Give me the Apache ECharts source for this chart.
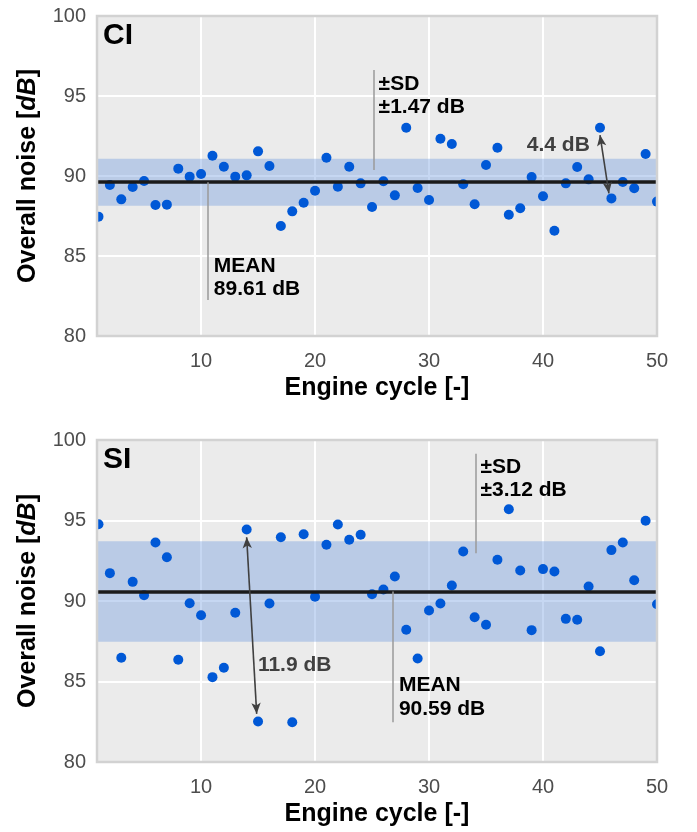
<!DOCTYPE html>
<html><head><meta charset="utf-8">
<script src="https://cdn.jsdelivr.net/npm/echarts@6/dist/echarts.min.js"></script>
<style>html,body{margin:0;padding:0;background:#fff}#c{width:697px;height:832px}</style>
</head><body><div id="c"></div>
<script>
// ---- data ----
const cycles = [1,2,3,4,5,6,7,8,9,10,11,12,13,14,15,16,17,18,19,20,21,22,23,24,25,26,27,28,29,30,31,32,33,34,35,36,37,38,39,40,41,42,43,44,45,46,47,48,49,50];
const ciNoise = [87.46,89.44,88.54,89.31,89.69,88.19,88.21,90.46,89.96,90.12,91.27,90.58,89.96,90.04,91.54,90.63,86.88,87.79,88.33,89.08,91.14,89.33,90.58,89.54,88.06,89.67,88.79,93.02,89.25,88.50,92.33,92.00,89.48,88.23,90.69,91.77,87.58,87.98,89.94,88.73,86.58,89.54,90.56,89.79,93.02,88.60,89.63,89.23,91.38,88.40];
const siNoise = [94.77,91.73,86.47,91.19,90.36,93.63,92.72,86.35,89.86,89.12,85.27,85.85,89.27,94.44,82.52,89.84,93.96,82.47,94.15,90.26,93.49,94.75,93.80,94.11,90.42,90.71,91.52,88.21,86.43,89.41,89.84,90.96,93.07,88.99,88.52,92.56,95.70,91.89,88.19,91.98,91.83,88.89,88.83,90.90,86.88,93.16,93.63,91.29,94.98,89.80];
const ciMean = 89.61, ciSD = 1.47;
const siMean = 90.59, siSD = 3.12;
const ciRange = 4.4, siRange = 11.9;
const xTicks = [10,20,30,40,50];
const yTicks = [80,85,90,95,100];
const panelNames = ['CI','SI'];

// ---- layout / style ----
const FONT = 'Liberation Sans, Arial, Helvetica, sans-serif';
const grids = [
  {left:97, top:16, width:560, height:320},
  {left:97, top:440, width:560, height:322}
];
const fmt = v => v.toFixed(2);

function xAxis(i){
  return {
    type:'value', gridIndex:i, min:0.87, max:50,
    axisLine:{show:false}, axisTick:{show:false, customValues:xTicks},
    axisLabel:{customValues:xTicks, fontSize:20, color:'#4d4d4d', margin:15, fontFamily:FONT},
    splitLine:{show:true, lineStyle:{color:'#ffffff', width:2}},
    name:'Engine cycle [-]', nameLocation:'middle', nameGap:40,
    nameTextStyle:{fontSize:25, fontWeight:'bold', color:'#000', fontFamily:FONT}
  };
}
function yAxis(i){
  return {
    type:'value', gridIndex:i, min:yTicks[0], max:yTicks[yTicks.length-1], interval:5,
    axisLine:{show:false}, axisTick:{show:false},
    axisLabel:{fontSize:20, color:'#4d4d4d', margin:11, fontFamily:FONT},
    splitLine:{show:true, lineStyle:{color:'#ffffff', width:2}},
    name:'Overall noise [{i|dB}]', nameLocation:'middle', nameGap:56,
    nameTextStyle:{fontSize:25, fontWeight:'bold', color:'#000', fontFamily:FONT,
      rich:{i:{fontSize:25, fontWeight:'bold', fontStyle:'italic', color:'#000', fontFamily:FONT}}}
  };
}

function leader(x, y1, y2){
  return [{coord:[x,y1], symbol:'none', lineStyle:{color:'#9a9a9a', width:1.5, type:'solid'}},
          {coord:[x,y2], symbol:'none'}];
}
function arrow(x1,y1,x2,y2){
  return [{coord:[x1,y1], symbol:'arrow', symbolSize:[7,11], lineStyle:{color:'#404040', width:1.6, type:'solid'}},
          {coord:[x2,y2], symbol:'arrow', symbolSize:[7,11]}];
}
function txt(x,y,text,color){
  return {coord:[x,y], symbol:'circle', symbolSize:1, itemStyle:{color:'rgba(0,0,0,0)'},
    label:{show:true, formatter:text, position:[0,0], align:'left', verticalAlign:'middle',
      fontSize:21, fontWeight:'bold', lineHeight:23.5, color:color||'#000', fontFamily:FONT}};
}

function panelSeries(i, values, mean, sd, ann){
  return [
    {type:'line', xAxisIndex:i, yAxisIndex:i, data:[], z:1, silent:true,
      markArea:{silent:true, itemStyle:{color:'rgba(120,160,225,0.42)'},
        data:[[{yAxis:mean-sd},{yAxis:mean+sd}]]},
      markLine:{silent:true, symbol:'none', label:{show:false},
        lineStyle:{color:'#1a1a1a', width:3.5, type:'solid'}, data:[{yAxis:mean}]}},
    {type:'scatter', xAxisIndex:i, yAxisIndex:i, z:3, symbolSize:10,
      itemStyle:{color:'#0058d6', opacity:1},
      data:cycles.map((c,k)=>[c, values[k]])},
    {type:'line', xAxisIndex:i, yAxisIndex:i, data:[], z:4, silent:true,
      markLine:{silent:true, label:{show:false}, animation:false, data:ann.lines},
      markPoint:{silent:true, animation:false, data:ann.texts}}
  ];
}

const ciAnn = {
  lines:[leader(25.12,96.63,90.38), leader(10.59,ciMean,82.25), arrow(45.0,92.56,45.78,88.92)],
  texts:[txt(25.62,95.0,'±SD\n±'+ciSD.toFixed(2)+' dB'), txt(11.16,83.6,'MEAN\n'+fmt(ciMean)+' dB'),
         txt(38.62,91.9,ciRange.toFixed(1)+' dB','#404040')]
};
const siAnn = {
  lines:[leader(34.06,99.14,92.97), leader(26.82,siMean,82.47), arrow(14.0,93.96,14.88,82.99)],
  texts:[txt(34.56,97.58,'±SD\n±'+siSD.toFixed(2)+' dB'), txt(27.4,83.98,'MEAN\n'+fmt(siMean)+' dB'),
         txt(15.03,86.0,siRange.toFixed(1)+' dB','#404040')]
};

const graphics = [];
grids.forEach((g,i)=>{
  // masks outside plot area (clip dots at edges)
  graphics.push({type:'rect', z:100, shape:{x:86, y:g.top-6, width:10, height:g.height+12}, style:{fill:'#fff'}});
  graphics.push({type:'rect', z:100, shape:{x:g.left+g.width+1, y:g.top-6, width:20, height:g.height+12}, style:{fill:'#fff'}});
  // border
  graphics.push({type:'rect', z:101, shape:{x:g.left, y:g.top, width:g.width, height:g.height},
    style:{fill:null, stroke:'#d2d2d2', lineWidth:2.5}});
  graphics.push({type:'text', z:102, x:g.left+6, y:g.top+5,
    style:{text:panelNames[i], fontSize:30, fontWeight:'bold', fill:'#000', fontFamily:FONT}});
});

const chart = echarts.init(document.getElementById('c'), null, {renderer:'canvas'});
chart.setOption({
  animation:false,
  backgroundColor:'#ffffff',
  textStyle:{fontFamily:FONT},
  grid: grids.map(g=>Object.assign({show:true, backgroundColor:'#ebebeb', borderWidth:0}, g)),
  xAxis:[xAxis(0), xAxis(1)],
  yAxis:[yAxis(0), yAxis(1)],
  series:[...panelSeries(0, ciNoise, ciMean, ciSD, ciAnn), ...panelSeries(1, siNoise, siMean, siSD, siAnn)],
  graphic: graphics
});
</script></body></html>
